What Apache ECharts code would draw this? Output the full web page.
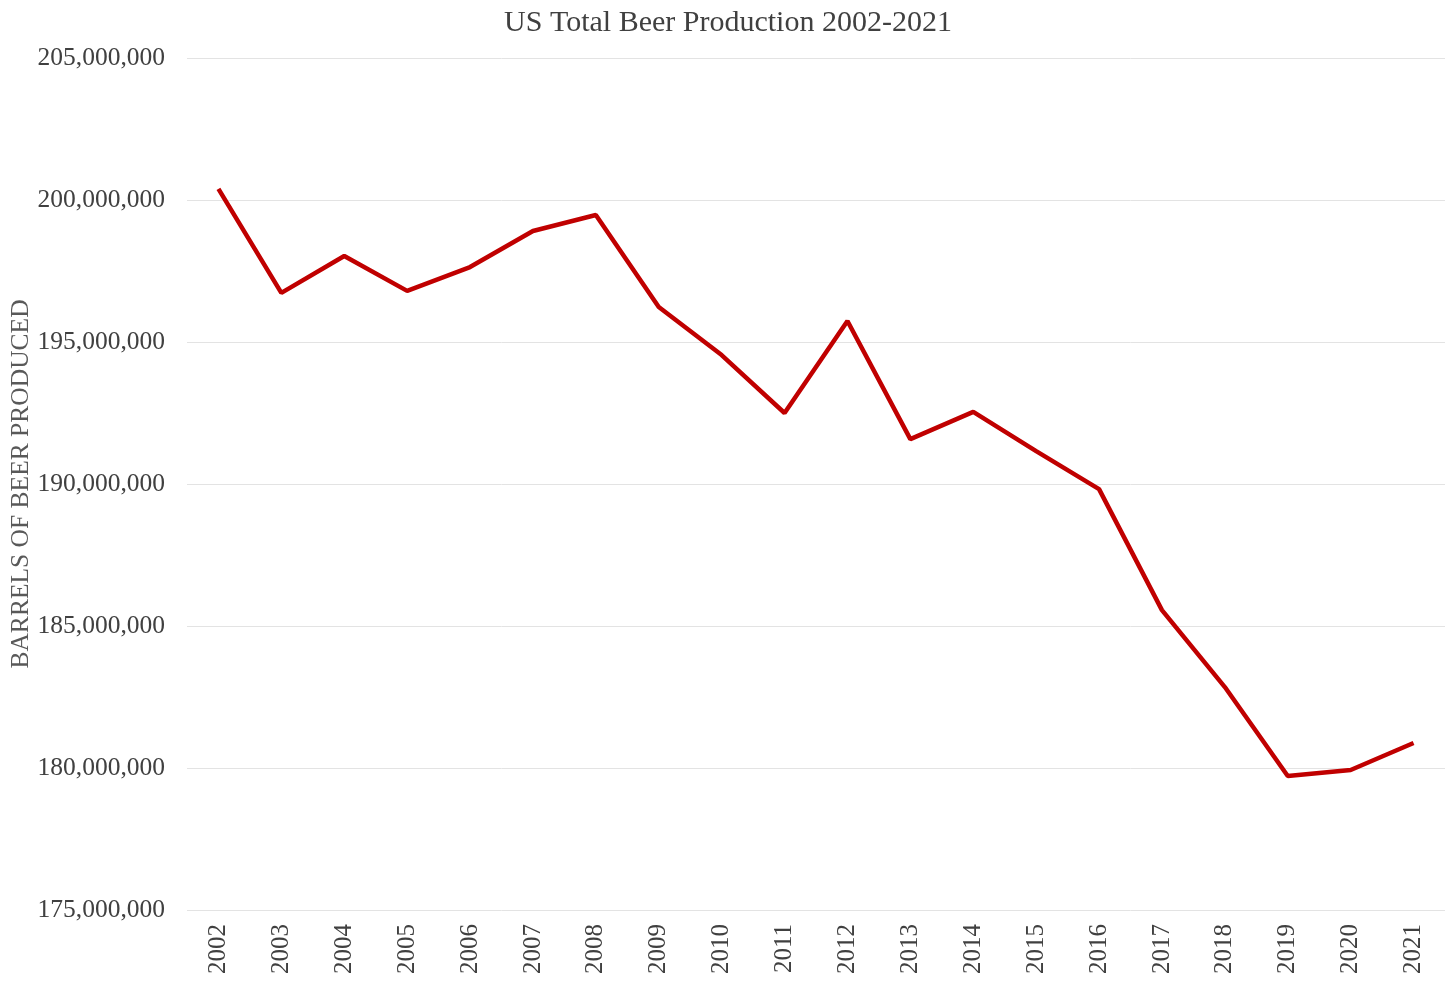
<!DOCTYPE html>
<html><head><meta charset="utf-8">
<script src="https://cdn.jsdelivr.net/npm/echarts@6/dist/echarts.min.js"></script>
<style>html,body{margin:0;padding:0;background:#fff}#c{width:1456px;height:984px}</style>
</head><body><div id="c"></div>
<script>
const years = ['2002','2003','2004','2005','2006','2007','2008','2009','2010','2011','2012','2013','2014','2015','2016','2017','2018','2019','2020','2021'];
const barrels = [200390000,196730000,198030000,196800000,197640000,198910000,199470000,196230000,194540000,192500000,195740000,191580000,192540000,191160000,189820000,185560000,182850000,179720000,179930000,180880000];
const yTicks = [175000000,180000000,185000000,190000000,195000000,200000000,205000000];
const font = '"Liberation Serif","Times New Roman",serif';
const chart = echarts.init(document.getElementById('c'));
chart.setOption({
  animation:false,
  title:{text:'US Total Beer Production 2002-2021',left:'center',top:3,textStyle:{fontFamily:font,fontSize:30,fontWeight:'normal',color:'#404040'}},
  grid:{left:187,right:11,top:58,bottom:74,containLabel:false,outerBoundsMode:'none'},
  xAxis:{type:'category',data:years,boundaryGap:true,
    axisLine:{show:false},axisTick:{show:false},
    axisLabel:{rotate:90,fontFamily:font,fontSize:25,color:'#404040',margin:14}},
  yAxis:{type:'value',min:yTicks[0],max:yTicks[yTicks.length-1],interval:5000000,
    name:'BARRELS OF BEER PRODUCED',nameLocation:'middle',nameGap:153,nameRotate:90,nameMoveOverlap:false,
    nameTextStyle:{fontFamily:font,fontSize:25.5,color:'#595959'},
    axisLine:{show:false},axisTick:{show:false},
    axisLabel:{fontFamily:font,fontSize:25.5,color:'#404040',margin:22,formatter:v=>v.toLocaleString('en-US')},
    splitLine:{lineStyle:{color:'#e3e3e3',width:1}}},
  series:[{type:'line',data:barrels,symbol:'none',lineStyle:{color:'#c00000',width:4.5}}]
});
</script></body></html>
